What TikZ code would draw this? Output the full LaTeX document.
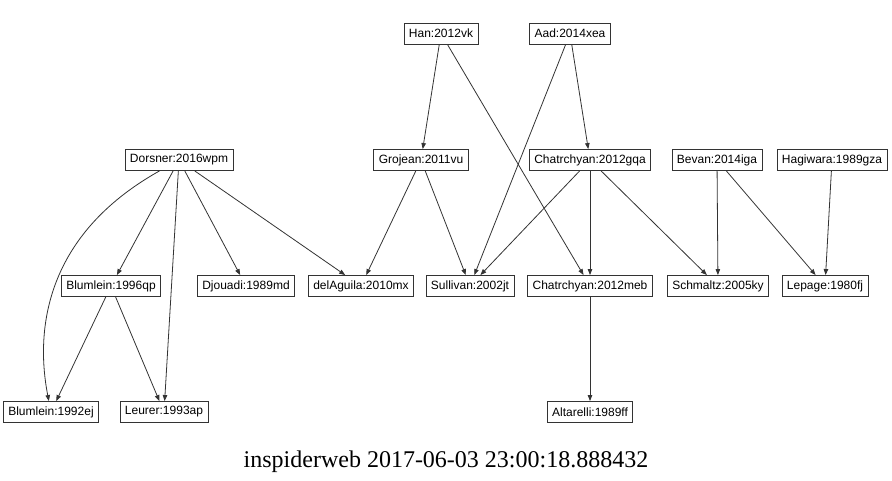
\documentclass[tikz,border=0pt]{standalone}
\usepackage{fontspec}
\setmainfont{Liberation Serif}
\setsansfont{Liberation Sans}
\usepackage{tikz}
\usetikzlibrary{arrows.meta}

\begin{document}
\begin{tikzpicture}[x=1pt,y=-1pt,
  box/.style={draw=black!80,line width=0.9pt,inner xsep=5pt,inner ysep=0pt,minimum height=21pt,font=\sffamily\fontsize{12}{14}\selectfont},
  wire/.style={draw=black!80,line width=0.8pt,-{Triangle[length=6pt,width=4.5pt]}}]
\useasboundingbox (0,0) rectangle (892,480);

% --- top row ----------------------------------------------------------
\node[box] (han) at (441,33.5) {Han:2012vk};
\node[box] (aad) at (570,33.5) {Aad:2014xea};

% --- second row -------------------------------------------------------
\node[box] (dorsner) at (179,160) {Dorsner:2016wpm};
\node[box] (grojean) at (421,160) {Grojean:2011vu};
\node[box] (chatgqa) at (590,160) {Chatrchyan:2012gqa};
\node[box] (bevan) at (717,160) {Bevan:2014iga};
\node[box] (hagiwara) at (832,160) {Hagiwara:1989gza};

% --- third row --------------------------------------------------------
\node[box] (blumqp) at (111,286) {Blumlein:1996qp};
\node[box] (djouadi) at (246,286) {Djouadi:1989md};
\node[box] (delaguila) at (361,286) {delAguila:2010mx};
\node[box] (sullivan) at (470,286) {Sullivan:2002jt};
\node[box] (chatmeb) at (590,286) {Chatrchyan:2012meb};
\node[box] (schmaltz) at (718,286) {Schmaltz:2005ky};
\node[box] (lepage) at (825,286) {Lepage:1980fj};

% --- bottom row -------------------------------------------------------
\node[box] (blumej) at (51,412) {Blumlein:1992ej};
\node[box] (leurer) at (164,412) {Leurer:1993ap};
\node[box] (altarelli) at (590,412) {Altarelli:1989ff};

% --- edges ------------------------------------------------------------
\draw[wire] (han) -- (grojean);
\draw[wire] (han) -- (chatmeb);
\draw[wire] (aad) -- (sullivan);
\draw[wire] (aad) -- (chatgqa);
\draw[wire] (dorsner) .. controls (45,235) and (35,330) .. (blumej);
\draw[wire] (dorsner) -- (blumqp);
\draw[wire] (dorsner) -- (leurer);
\draw[wire] (dorsner) -- (djouadi);
\draw[wire] (dorsner) -- (delaguila);
\draw[wire] (grojean) -- (delaguila);
\draw[wire] (grojean) -- (sullivan);
\draw[wire] (chatgqa) -- (sullivan);
\draw[wire] (chatgqa) -- (chatmeb);
\draw[wire] (chatgqa) -- (schmaltz);
\draw[wire] (bevan) -- (schmaltz);
\draw[wire] (bevan) -- (lepage);
\draw[wire] (hagiwara) -- (lepage);
\draw[wire] (blumqp) -- (blumej);
\draw[wire] (blumqp) -- (leurer);
\draw[wire] (chatmeb) -- (altarelli);

% --- caption ----------------------------------------------------------
\node[font=\rmfamily\fontsize{24}{28}\selectfont] (caption) at (446,462) {inspiderweb 2017-06-03 23:00:18.888432};
\end{tikzpicture}
\end{document}
